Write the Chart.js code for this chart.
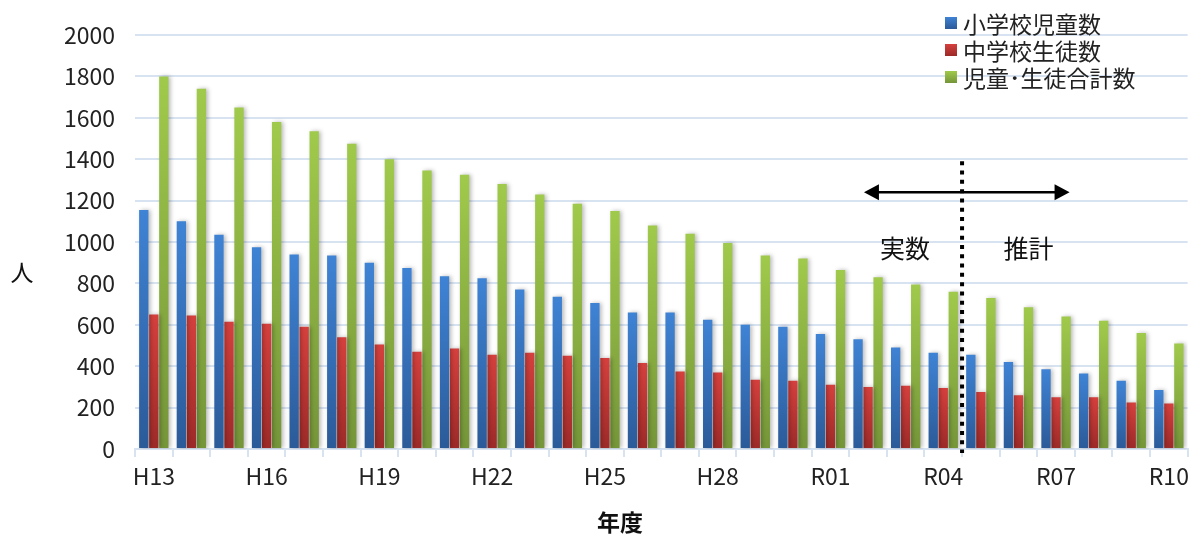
<!DOCTYPE html>
<html lang="ja">
<head>
<meta charset="utf-8">
<title>児童・生徒数の推移</title>
<script src="https://cdn.jsdelivr.net/npm/chart.js@4.4.1/dist/chart.umd.min.js"></script>
<style>
  html, body { margin: 0; padding: 0; background: #ffffff; }
  #wrap { width: 1194px; height: 535px; position: relative; }
</style>
</head>
<body>
<div id="wrap"><canvas id="chart" width="1194" height="535"></canvas></div>
<script>
// 年度
const categories = [
  'H13','H14','H15','H16','H17','H18','H19','H20','H21','H22',
  'H23','H24','H25','H26','H27','H28','H29','H30',
  'R01','R02','R03','R04','R05','R06','R07','R08','R09','R10'
];
// 小学校児童数
const elementary = [
  1155,1100,1035,975,940,935,900,875,835,825,
  770,735,705,660,660,625,600,590,
  555,530,490,465,455,420,385,365,330,285
];
// 中学校生徒数
const juniorHigh = [
  650,645,615,605,590,540,505,470,485,455,
  465,450,440,415,375,370,335,330,
  310,300,305,295,275,260,250,250,225,220
];
// 児童・生徒合計数
const total = [
  1800,1740,1650,1580,1535,1475,1400,1345,1325,1280,
  1230,1185,1150,1080,1040,995,935,920,
  865,830,795,760,730,685,640,620,560,510
];
// 目盛り
const yTicks = [0,200,400,600,800,1000,1200,1400,1600,1800,2000];
const seriesNames = ['小学校児童数','中学校生徒数','児童･生徒合計数'];

const FONT = '"Noto Sans CJK JP", "Noto Sans", sans-serif';
const GRID = '#d8e3f2';
const palette = [
  ['#3f83d5', '#2b5a98'],
  ['#d5403d', '#9c2a28'],
  ['#a0ca4b', '#759539']
];

// 棒ごとに上から下へのグラデーション
function barFill(top, bottom) {
  return function (ctx) {
    const chart = ctx.chart;
    if (!chart.chartArea || ctx.type !== 'data' || !chart.scales.y) return top;
    const ys = chart.scales.y;
    const y0 = ys.getPixelForValue(0);
    const y1 = ys.getPixelForValue(ctx.raw);
    if (!isFinite(y0) || !isFinite(y1) || y0 === y1) return top;
    const g = chart.ctx.createLinearGradient(0, y1, 0, y0);
    g.addColorStop(0, top);
    g.addColorStop(1, bottom);
    return g;
  };
}

// 棒の影
const barShadow = {
  id: 'barShadow',
  beforeDatasetsDraw(chart) {
    const c = chart.ctx;
    c.save();
    c.shadowColor = 'rgba(0,0,0,0.28)';
    c.shadowBlur = 4;
    c.shadowOffsetX = 2;
    c.shadowOffsetY = 0;
  },
  afterDatasetsDraw(chart) {
    chart.ctx.restore();
  }
};

// 凡例・軸タイトル・実数／推計の区切り
const decorations = {
  id: 'decorations',
  afterDraw(chart) {
    const c = chart.ctx;
    const xs = chart.scales.x;
    const ys = chart.scales.y;
    const area = chart.chartArea;

    // 凡例
    c.save();
    c.font = '23px ' + FONT;
    c.textBaseline = 'middle';
    c.textAlign = 'left';
    const lx = 945, ly0 = 23, lstep = 27, box = 12;
    seriesNames.forEach((name, i) => {
      const y = ly0 + i * lstep;
      const g = c.createLinearGradient(0, y - box / 2, 0, y + box / 2);
      g.addColorStop(0, palette[i][0]);
      g.addColorStop(1, palette[i][1]);
      c.fillStyle = g;
      c.fillRect(lx, y - box / 2, box, box);
      c.fillStyle = '#222222';
      c.fillText(name, lx + 18, y + 1);
    });
    c.restore();

    // 縦軸タイトル
    c.save();
    c.fillStyle = '#111111';
    c.font = '23px ' + FONT;
    c.textAlign = 'center';
    c.textBaseline = 'middle';
    c.fillText('人', 22, 272);
    // 横軸タイトル
    c.font = 'bold 23px ' + FONT;
    c.fillText('年度', 620, 522);
    c.restore();

    // 実数と推計の境界（R04 と R05 の間）
    const divX = (xs.getPixelForValue(21) + xs.getPixelForValue(22)) / 2;
    c.save();
    c.strokeStyle = '#000000';
    c.lineWidth = 4;
    c.setLineDash([4, 5.3]);
    c.beginPath();
    c.moveTo(divX, ys.getPixelForValue(1390));
    c.lineTo(divX, area.bottom + 4);
    c.stroke();
    c.restore();

    // 両矢印
    const ay = ys.getPixelForValue(1240);
    const ax1 = xs.getPixelForValue(18.89);
    const ax2 = xs.getPixelForValue(24.36);
    const head = 15, half = 8;
    c.save();
    c.strokeStyle = '#000000';
    c.fillStyle = '#000000';
    c.lineWidth = 2.5;
    c.beginPath();
    c.moveTo(ax1 + head - 1, ay);
    c.lineTo(ax2 - head + 1, ay);
    c.stroke();
    c.beginPath();
    c.moveTo(ax1, ay);
    c.lineTo(ax1 + head, ay - half);
    c.lineTo(ax1 + head, ay + half);
    c.closePath();
    c.fill();
    c.beginPath();
    c.moveTo(ax2, ay);
    c.lineTo(ax2 - head, ay - half);
    c.lineTo(ax2 - head, ay + half);
    c.closePath();
    c.fill();

    // 区分ラベル
    c.font = '25px ' + FONT;
    c.textAlign = 'center';
    c.textBaseline = 'middle';
    c.fillStyle = '#111111';
    const ty = ys.getPixelForValue(970);
    c.fillText('実数', xs.getPixelForValue(19.98), ty);
    c.fillText('推計', xs.getPixelForValue(23.27), ty);
    c.restore();
  }
};

const values = [elementary, juniorHigh, total];

new Chart(document.getElementById('chart'), {
  type: 'bar',
  data: {
    labels: categories,
    datasets: values.map((v, i) => ({
      label: seriesNames[i],
      data: v,
      backgroundColor: barFill(palette[i][0], palette[i][1]),
      borderWidth: 0,
      barPercentage: 0.93,
      categoryPercentage: 0.8
    }))
  },
  options: {
    responsive: false,
    animation: false,
    events: [],
    layout: { padding: { top: 35, right: 6, left: 0, bottom: 0 } },
    plugins: {
      legend: { display: false },
      tooltip: { enabled: false },
      title: { display: false }
    },
    scales: {
      x: {
        offset: true,
        afterFit(s) { s.height = 86; },
        grid: {
          offset: true,
          drawOnChartArea: false,
          drawTicks: true,
          tickLength: 8,
          color: GRID,
          lineWidth: 2
        },
        border: { display: true, color: GRID, width: 2 },
        ticks: {
          autoSkip: false,
          maxRotation: 0,
          minRotation: 0,
          padding: 5,
          color: '#222222',
          font: { family: FONT, size: 23 },
          callback(value, index) {
            return index % 3 === 0 ? categories[index] : '';
          }
        }
      },
      y: {
        min: yTicks[0],
        max: yTicks[yTicks.length - 1],
        afterFit(s) { s.width = 135; },
        afterBuildTicks(s) { s.ticks = yTicks.map(v => ({ value: v })); },
        grid: {
          drawTicks: false,
          color: GRID,
          lineWidth: 2
        },
        border: { display: false },
        ticks: {
          padding: 20,
          color: '#222222',
          font: { family: FONT, size: 23 },
          callback(value) { return String(value); }
        }
      }
    }
  },
  plugins: [barShadow, decorations]
});
</script>
</body>
</html>
